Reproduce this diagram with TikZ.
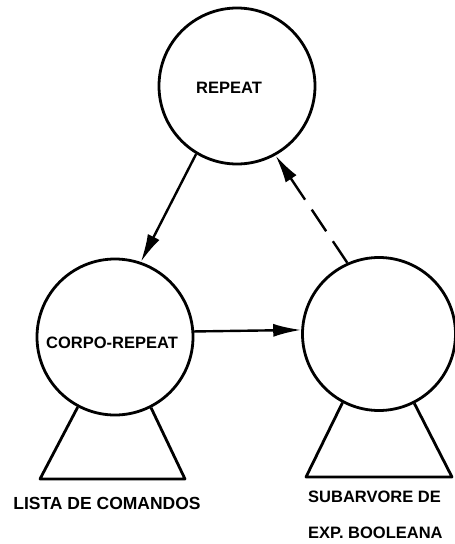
\documentclass[tikz,border=0pt]{standalone}
\usepackage{fontspec}
\setmainfont{Liberation Sans}
\usetikzlibrary{arrows.meta}
\begin{document}
\begin{tikzpicture}[x=1pt,y=-1pt,
  treenode/.style={circle,draw,line width=2.8pt,minimum size=#1,inner sep=0pt},
  subtree/.style={draw,line width=2.8pt,line join=round},
  edge/.style={line width=2.4pt,-{Latex[length=28pt,width=13pt]}},
  backedge/.style={edge,dash pattern=on 26pt off 12pt},
  label/.style={font=\bfseries\fontsize{16.5}{16.5}\selectfont,inner sep=0pt}]
  \useasboundingbox (0,0) rectangle (455,544);

  % the three nodes of the tree
  \node[treenode=156pt] (T) at (237,86) {};
  \node[treenode=156pt] (L) at (115,337) {};
  \node[treenode=153pt] (R) at (379,334) {};

  \node[label] (tT) at (229,88) {REPEAT};
  \node[label] (tL) at (112,343) {CORPO-REPEAT};

  % subtrees hanging below the lower nodes
  \coordinate (L1) at (40,479);
  \coordinate (L2) at (185,479);
  \coordinate (R1) at (306,477);
  \coordinate (R2) at (452,477);
  \draw[subtree] (L.242) -- (L1) -- (L2) -- (L.297);
  \draw[subtree] (R.242) -- (R1) -- (R2) -- (R.297);

  % labels of the subtrees
  \node[label,font=\bfseries\fontsize{17.5}{17.5}\selectfont] (sL) at (107,503) {LISTA DE COMANDOS};
  \node[label,anchor=west,font=\bfseries\fontsize{16.5}{16.5}\selectfont] (sR1) at (308,497) {SUBARVORE DE};
  \node[label,anchor=west,font=\bfseries\fontsize{16.5}{16.5}\selectfont] (sR2) at (308,533) {EXP. BOOLEANA};

  % connectors
  \draw[edge] (T.239) -- (L.71);
  \draw[edge] (L.4) -- (R.177);
  \draw[backedge] (R.114) -- (T.299);
\end{tikzpicture}
\end{document}
